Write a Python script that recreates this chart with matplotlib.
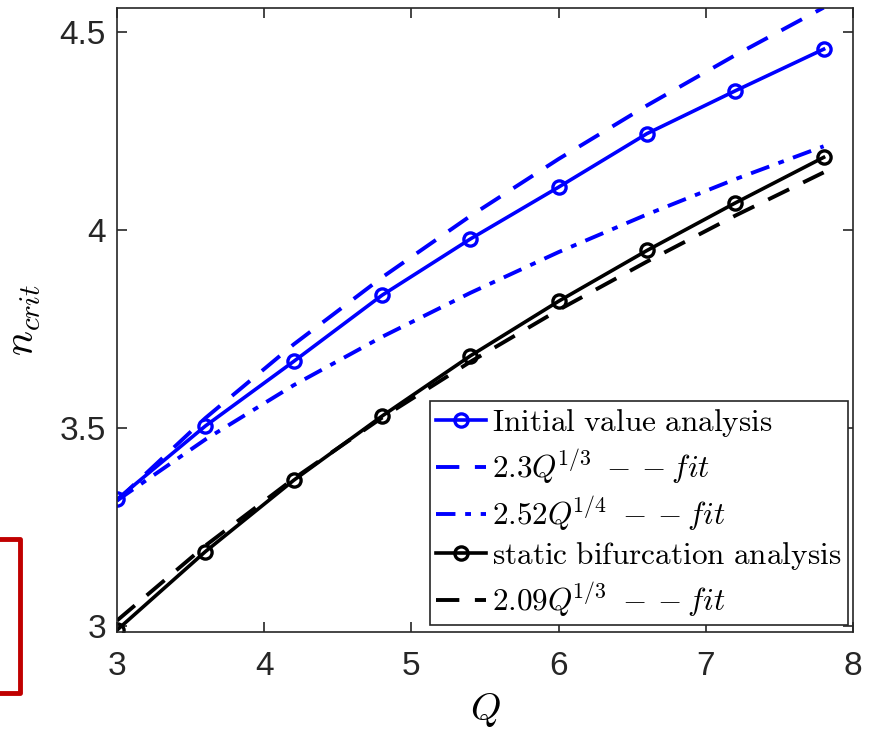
import numpy as np
import matplotlib
matplotlib.use('agg')
from matplotlib import pyplot as plt
from matplotlib.patches import Rectangle

# values
Q = [3.0, 3.6, 4.2, 4.8, 5.4, 6.0, 6.6, 7.2, 7.8]
n_initial = [3.32, 3.505, 3.668, 3.835, 3.977, 4.108, 4.243, 4.351, 4.456]
n_static = [2.99, 3.188, 3.368, 3.53, 3.682, 3.82, 3.948, 4.068, 4.183]
fit_23_third = [3.317, 3.525, 3.711, 3.880, 4.035, 4.179, 4.314, 4.441, 4.561]
fit_252_quarter = [3.317, 3.471, 3.608, 3.730, 3.841, 3.944, 4.039, 4.128, 4.211]
fit_209_third = [3.014, 3.203, 3.372, 3.526, 3.667, 3.798, 3.920, 4.036, 4.145]

x_ticks = [3, 4, 5, 6, 7, 8]
y_ticks = [3, 3.5, 4, 4.5]
y_tick_labels = ['3', '3.5', '4', '4.5']

labels = [r'$\mathrm{Initial\ value\ analysis}$',
          r'$2.3Q^{\!1/3}\ - -fit$',
          r'$2.52Q^{\!1/4}\ - -fit$',
          r'$\mathrm{static\ bifurcation\ analysis}$',
          r'$2.09Q^{\!1/3}\ - -fit$']

plt.rcParams['mathtext.fontset'] = 'cm'
plt.rcParams['font.family'] = ['Liberation Sans', 'DejaVu Sans']

fig = plt.figure(figsize=(8.84, 7.35), dpi=100)
ax = fig.add_axes([0.1324, 0.1401, 0.8326, 0.849])

blue = '#0000ff'
ax.plot(Q, n_initial, '-', color=blue, lw=2.6, marker='o', ms=9.5,
        mfc='none', mew=2.4, label=labels[0])
ax.plot(Q, fit_23_third, '--', color=blue, lw=2.8, dashes=(6, 4),
        label=labels[1])
ax.plot(Q, fit_252_quarter, '-.', color=blue, lw=2.8, dashes=(5, 2.5, 1.5, 2.5),
        label=labels[2])
ax.plot(Q, n_static, '-', color='black', lw=2.6, marker='o', ms=9.5,
        mfc='none', mew=2.4, label=labels[3])
ax.plot(Q, fit_209_third, '--', color='black', lw=2.8, dashes=(6, 4),
        label=labels[4])

ax.set_xlim(3, 8)
ax.set_ylim(2.985, 4.56)
ax.set_xticks(x_ticks)
ax.set_yticks(y_ticks)
ax.set_yticklabels(y_tick_labels)
ax.tick_params(direction='in', length=7, width=1.2, top=True, right=True,
               labelsize=24, colors='#262626')
ax.tick_params(axis='x', pad=14)
ax.tick_params(axis='y', pad=8)
for sp in ax.spines.values():
    sp.set_color('#262626')
    sp.set_linewidth(1.2)

ax.set_xlabel(r'$Q$', fontsize=28, labelpad=6)
ax.set_ylabel(r'$n_{crit}$', fontsize=30, labelpad=12)

leg = ax.legend(loc='lower right', bbox_to_anchor=(0.993, 0.011),
                borderaxespad=0, fontsize=22.5, handlelength=1.6,
                handletextpad=0.2, labelspacing=0.25, borderpad=0.2,
                fancybox=False, framealpha=1, edgecolor='#262626')
leg.get_frame().set_linewidth(1.2)

# red highlight box at the left edge of the figure
fig.patches.append(Rectangle((-0.05, 1 - 693 / 735), 0.05 + 20 / 884, 154 / 735,
                             transform=fig.transFigure, fill=False,
                             edgecolor='#c00000', lw=3.5, joinstyle='round'))

fig.savefig('out.png', dpi=100)
